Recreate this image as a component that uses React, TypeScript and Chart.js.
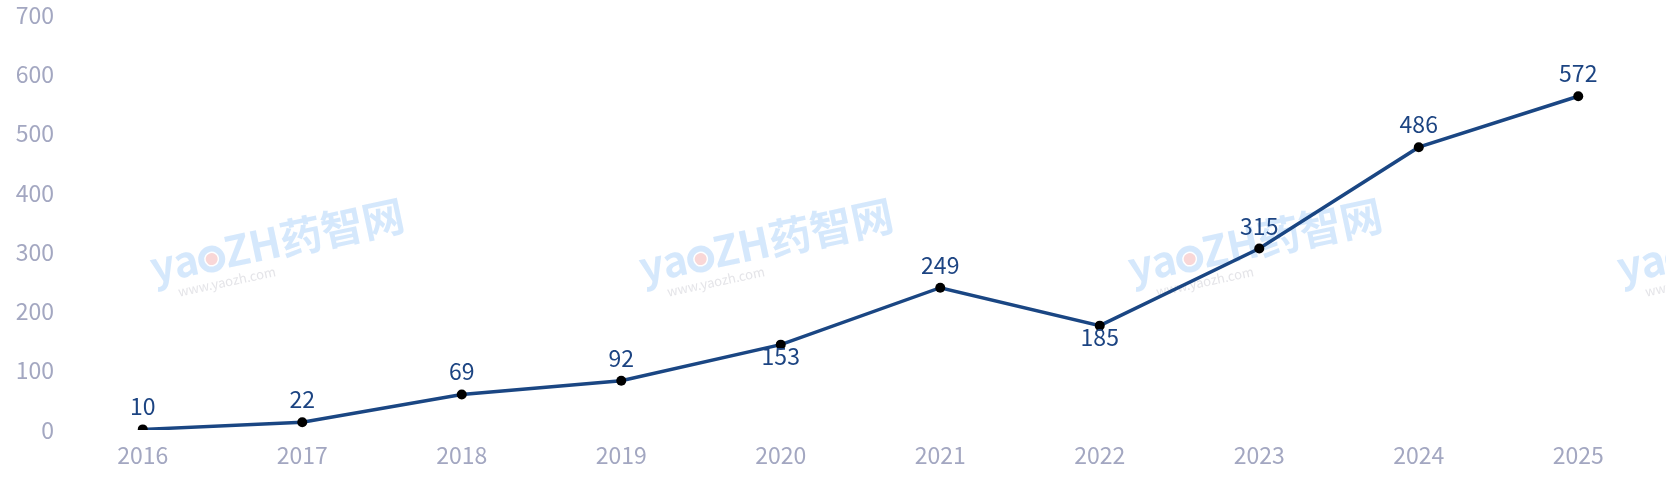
import React, { useEffect, useRef } from "react";
import { Chart, registerables } from "chart.js";

Chart.register(...registerables);

const years = ["2016", "2017", "2018", "2019", "2020", "2021", "2022", "2023", "2024", "2025"];
const counts = [10, 22, 69, 92, 153, 249, 185, 315, 486, 572];
const labelSides = ["above", "above", "above", "above", "below", "above", "below", "above", "above", "above"];
const yTickValues = [0, 100, 200, 300, 400, 500, 600, 700];
// the reference's axis baseline sits slightly above zero
const AXIS_SHIFT = 9;

const FONT = '"Noto Sans CJK SC", "Noto Sans", sans-serif';
const LINE_COLOR = "#1a4683";
const LABEL_COLOR = "#1c4482";
const TICK_COLOR = "#a3a7c1";

function drawMark(ctx: CanvasRenderingContext2D, cx: number, cy: number) {
  ctx.save();
  ctx.translate(cx, cy);
  ctx.rotate((-12 * Math.PI) / 180);
  ctx.font = `bold 42px ${FONT}`;
  ctx.textBaseline = "alphabetic";
  ctx.textAlign = "left";
  const partA = "ya";
  const partB = "ZH药智网";
  const wA = ctx.measureText(partA).width;
  const wO = 27;
  const wB = ctx.measureText(partB).width;
  const total = wA + wO + wB;
  let x = -total / 2;
  ctx.fillStyle = "rgba(190, 220, 250, 0.65)";
  ctx.fillText(partA, x, 12);
  x += wA;
  ctx.beginPath();
  ctx.arc(x + wO / 2, 0, 10.5, 0, Math.PI * 2);
  ctx.lineWidth = 6;
  ctx.strokeStyle = "rgba(190, 220, 250, 0.65)";
  ctx.stroke();
  ctx.beginPath();
  ctx.arc(x + wO / 2, 0, 6, 0, Math.PI * 2);
  ctx.fillStyle = "rgba(248, 205, 205, 0.8)";
  ctx.fill();
  x += wO;
  ctx.fillStyle = "rgba(190, 220, 250, 0.65)";
  ctx.fillText(partB, x, 12);
  ctx.font = `13px ${FONT}`;
  ctx.fillStyle = "rgba(225, 225, 230, 0.9)";
  ctx.fillText("www.yaozh.com", -total / 2 + 22, 30);
  ctx.restore();
}

const watermarkPlugin = {
  id: "watermark",
  beforeDatasetsDraw(chart: any) {
    const ctx = chart.ctx as CanvasRenderingContext2D;
    for (let i = 0; i < 4; i++) {
      drawMark(ctx, 278 + i * 489, 245);
    }
  },
};

const valueLabelPlugin = {
  id: "valueLabels",
  afterDatasetsDraw(chart: any) {
    const ctx = chart.ctx as CanvasRenderingContext2D;
    const meta = chart.getDatasetMeta(0);
    ctx.save();
    ctx.font = `23px ${FONT}`;
    ctx.fillStyle = LABEL_COLOR;
    ctx.textAlign = "center";
    ctx.textBaseline = "alphabetic";
    meta.data.forEach((pt: any, i: number) => {
      const below = labelSides[i] === "below";
      ctx.fillText(String(counts[i]), pt.x, below ? pt.y + 20 : pt.y - 14);
    });
    ctx.restore();
  },
};

export default function App() {
  const ref = useRef<HTMLCanvasElement | null>(null);
  useEffect(() => {
    document.body.style.margin = "0";
    if (!ref.current) return;
    const chart = new Chart(ref.current, {
      type: "line",
      data: {
        labels: years,
        datasets: [
          {
            data: counts,
            borderColor: LINE_COLOR,
            borderWidth: 3.5,
            pointRadius: 5,
            pointBackgroundColor: "#000",
            pointBorderColor: "#000",
            pointBorderWidth: 0,
            tension: 0,
            fill: false,
          },
        ],
      },
      options: {
        animation: false,
        responsive: true,
        maintainAspectRatio: false,
        layout: { padding: { top: 0, right: 8, left: 0, bottom: 0 } },
        plugins: { legend: { display: false }, tooltip: { enabled: false } },
        scales: {
          x: {
            offset: true,
            grid: { display: false, drawTicks: false },
            border: { display: false },
            ticks: {
              color: TICK_COLOR,
              font: { family: FONT, size: 23 },
              padding: 11,
              autoSkip: false,
              maxRotation: 0,
            },
            afterFit(scale: any) {
              scale.height = 68;
            },
          },
          y: {
            min: yTickValues[0] + AXIS_SHIFT,
            max: yTickValues[yTickValues.length - 1] + AXIS_SHIFT,
            grid: { display: false, drawTicks: false },
            border: { display: false },
            afterBuildTicks(scale: any) {
              scale.ticks = yTickValues.map((v) => ({ value: v + AXIS_SHIFT }));
            },
            ticks: {
              color: TICK_COLOR,
              font: { family: FONT, size: 23 },
              padding: 9,
              callback: (v: any) => String(Math.round(Number(v) - AXIS_SHIFT)),
            },
            afterFit(scale: any) {
              scale.width = 63;
              scale.paddingTop = 15;
              scale.paddingBottom = 0;
            },
          },
        },
      },
      plugins: [watermarkPlugin, valueLabelPlugin],
    });
    return () => chart.destroy();
  }, []);
  return (
    <div style={{ width: 1666, height: 498, position: "relative" }}>
      <canvas ref={ref} />
    </div>
  );
}
